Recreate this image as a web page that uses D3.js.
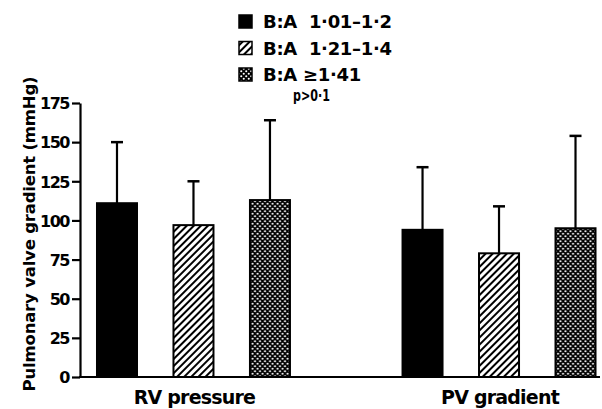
<!DOCTYPE html>
<html><head><meta charset="utf-8">
<script src="https://cdn.jsdelivr.net/npm/d3@7"></script>
<style>body{margin:0;background:#fff}svg{display:block}text{font-family:"DejaVu Sans",sans-serif;fill:#000}</style>
</head><body><svg id="c" width="602" height="409"></svg>
<script>
const categories = ["RV pressure", "PV gradient"];
const seriesNames = ["B:A  1·01–1·2", "B:A  1·21–1·4", "B:A \u22651·41"];
const meanRV = [111, 97, 113];
const sdTopRV = [150, 125, 164];
const meanPV = [94, 79, 95];
const sdTopPV = [134, 109, 154];
const yTicks = [0, 25, 50, 75, 100, 125, 150, 175];
const pText = "p>0·1";
const yTitle = "Pulmonary valve gradient (mmHg)";

const means = [meanRV, meanPV];
const tops = [sdTopRV, sdTopPV];

const svg = d3.select("#c");
const defs = svg.append("defs");
const hatch = defs.append("pattern").attr("id","hatch").attr("patternUnits","userSpaceOnUse")
  .attr("width",5).attr("height",5).attr("patternTransform","rotate(45)");
hatch.append("rect").attr("width",5).attr("height",5).attr("fill","#fff");
hatch.append("rect").attr("x",0).attr("y",0).attr("width",2).attr("height",5).attr("fill","#000");
const dots = defs.append("pattern").attr("id","dots").attr("patternUnits","userSpaceOnUse")
  .attr("width",5).attr("height",5);
dots.append("rect").attr("width",5).attr("height",5).attr("fill","#000");
dots.append("circle").attr("cx",1.25).attr("cy",1.25).attr("r",1.05).attr("fill","#fff");
dots.append("circle").attr("cx",3.75).attr("cy",3.75).attr("r",1.05).attr("fill","#fff");
const fills = ["#000", "url(#hatch)", "url(#dots)"];

const y = d3.scaleLinear().domain([0,175]).range([377,103]);
const x0 = d3.scaleBand().domain(categories).range([78.75, 613.75]).paddingInner(0.249).paddingOuter(0);
const x1 = d3.scaleBand().domain(d3.range(3)).range([0, x0.bandwidth()]).paddingInner(0.477).paddingOuter(0.2385);

// y axis
const yAxis = d3.axisLeft(y).tickValues(yTicks).tickSize(8).tickPadding(3).tickSizeOuter(0);
const ga = svg.append("g").attr("transform","translate(80,0)").call(yAxis);
ga.select(".domain").attr("stroke-width",2.2);
ga.selectAll(".tick line").attr("stroke-width",2.2);
ga.selectAll(".tick text").attr("font-size",16).attr("font-weight","bold").attr("letter-spacing",-1.5).attr("dy","0.36em");

// baseline
svg.append("line").attr("x1",79).attr("x2",600).attr("y1",y(0)).attr("y2",y(0)).attr("stroke","#000").attr("stroke-width",2.2);

// bars
categories.forEach((c,ci)=>{
  const g = svg.append("g").attr("transform",`translate(${x0(c)},0)`);
  d3.range(3).forEach(si=>{
    const bx = x1(si), bw = x1.bandwidth(), cx = bx + bw/2;
    g.append("line").attr("x1",cx).attr("x2",cx).attr("y1",y(means[ci][si])).attr("y2",y(tops[ci][si])).attr("stroke","#000").attr("stroke-width",2.2);
    g.append("line").attr("x1",cx-6).attr("x2",cx+6).attr("y1",y(tops[ci][si])).attr("y2",y(tops[ci][si])).attr("stroke","#000").attr("stroke-width",2.5);
    g.append("rect").attr("x",bx).attr("y",y(means[ci][si])).attr("width",bw).attr("height",y(0)-y(means[ci][si]))
      .attr("fill",fills[si]).attr("stroke","#000").attr("stroke-width",2);
  });
  svg.append("text").attr("x",x0(c)+x0.bandwidth()/2+1).attr("y",404).attr("text-anchor","middle")
    .attr("font-size",19).attr("font-weight","bold").attr("letter-spacing",-0.8).text(c);
});

// y title
svg.append("text").attr("transform","translate(35,234) rotate(-90)").attr("text-anchor","middle")
  .attr("font-size",16.5).attr("font-weight","bold").attr("letter-spacing",-0.2).text(yTitle);

// legend
seriesNames.forEach((s,i)=>{
  const ly = 15 + i*26.5;
  svg.append("rect").attr("x",239).attr("y",ly).attr("width",13).attr("height",13).attr("fill",fills[i]).attr("stroke","#000").attr("stroke-width",1.5);
  svg.append("text").attr("x",263).attr("y",ly+13).attr("font-size",18).attr("font-weight","bold").attr("letter-spacing",-0.3).style("white-space","pre").text(s);
});
svg.append("text").attr("x",293).attr("y",101).attr("font-size",15).attr("font-weight","bold")
  .attr("textLength",37).attr("lengthAdjust","spacingAndGlyphs").text(pText);
</script></body></html>
